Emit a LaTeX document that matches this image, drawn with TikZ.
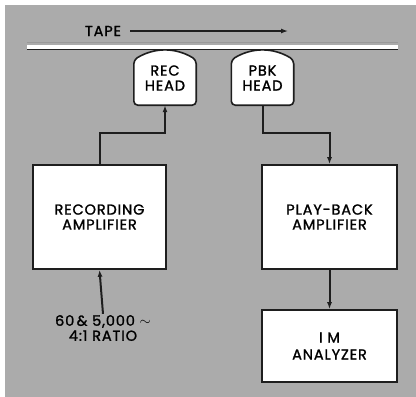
\documentclass[tikz,border=0pt]{standalone}
\usepackage{fontspec}
\setmainfont{Poppins}[FakeBold=1.4,LetterSpace=6]
\usetikzlibrary{arrows.meta,calc,backgrounds}
\definecolor{bgGray}{HTML}{ABABAB}
\definecolor{inkGray}{HTML}{1E1E1E}
\begin{document}
\begin{tikzpicture}[x=1pt,y=-1pt,font=\fontsize{14.5}{15}\selectfont,
  blk/.style={draw=inkGray,line width=1.6pt,fill=white,align=center,inner sep=0pt},
  head/.style={align=center,inner sep=0pt,minimum width=62pt,minimum height=54pt},
  msg/.style={-{Latex[length=7pt,width=5pt]},line width=2pt,draw=inkGray},
  lbl/.style={align=center,inner sep=1pt}]
  \useasboundingbox (0,0) rectangle (416,397);
  \begin{scope}[on background layer]
    \fill[bgGray] (5,5) rectangle (416,397);
  \end{scope}
  % tape
  \draw[black!40,line width=0.8pt] (27,42) -- (398,42);
  \draw[white,line width=4pt] (27,46.5) -- (398,46.5);
  \draw[inkGray,line width=0.9pt] (27,49.5) -- (398,49.5);
  \node[lbl,inner xsep=9pt] (tape) at (103,31) {TAPE};
  \coordinate (tapeEnd) at (288,31);
  \draw[msg,line width=1.3pt] (tape.east) -- (tapeEnd);
  % heads
  \node[head] (recH) at (165,78) {REC\\HEAD};
  \node[head] (pbkH) at (262.5,78) {PBK\\HEAD};
  \foreach \h in {recH,pbkH}{
    \begin{scope}[on background layer]
      \draw[inkGray,line width=1.6pt,fill=white,rounded corners=4pt] (\h.south west) -- ($(\h.north west)+(0,9)$)
        to[bend left=31] ($(\h.north east)+(0,9)$) -- (\h.south east) -- cycle;
    \end{scope}}
  % amplifiers
  \node[blk,minimum width=133pt,minimum height=104pt] (recAmp) at (99.5,217) {RECORDING\\AMPLIFIER};
  \node[blk,minimum width=135pt,minimum height=104pt] (pbAmp) at (329.5,217) {PLAY-BACK\\AMPLIFIER};
  \node[blk,minimum width=135pt,minimum height=72pt] (imA) at (329.5,346) {I M\\[2pt]ANALYZER};
  \node[lbl] (src) at (103,328) {60\,\& 5,000 {\Large$\sim$}\\4:1 RATIO};
  \draw[msg] (recAmp.north) -- ++(0,-31) -| (recH.south);
  \draw[msg] (pbkH.south) -- ++(0,28) -| (pbAmp.north);
  \draw[msg] (pbAmp.south) -- (imA.north);
  \draw[msg] (src.north) -- (recAmp.south);
\end{tikzpicture}
\end{document}
